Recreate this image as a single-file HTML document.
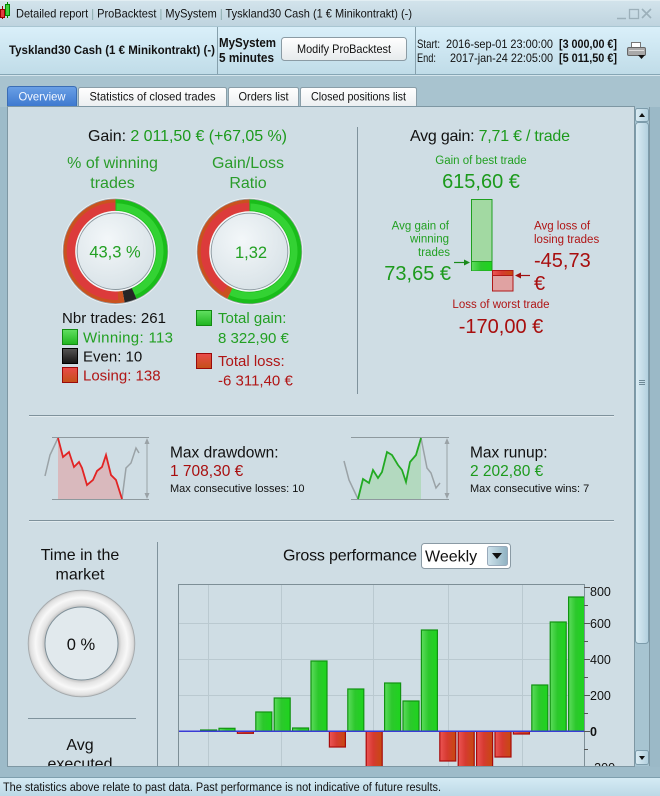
<!DOCTYPE html>
<html><head><meta charset="utf-8">
<style>
html,body{margin:0;padding:0;width:660px;height:796px;overflow:hidden;background:#9dbbc9}
svg{display:block}
text{font-family:"Liberation Sans",Arial,sans-serif}
</style></head><body>
<svg width="660" height="796" viewBox="0 0 660 796" xmlns="http://www.w3.org/2000/svg">
<defs>
 <linearGradient id="tb" x1="0" y1="0" x2="0" y2="1"><stop offset="0" stop-color="#d3e4ec"/><stop offset="1" stop-color="#bfd4df"/></linearGradient>
 <linearGradient id="hdr" x1="0" y1="0" x2="0" y2="1"><stop offset="0" stop-color="#daf0fa"/><stop offset="1" stop-color="#c0dce8"/></linearGradient>
 <linearGradient id="tabB" x1="0" y1="0" x2="0" y2="1"><stop offset="0" stop-color="#6aa0e6"/><stop offset="1" stop-color="#3e79cf"/></linearGradient>
 <linearGradient id="tabW" x1="0" y1="0" x2="0" y2="1"><stop offset="0" stop-color="#ffffff"/><stop offset="1" stop-color="#eceff1"/></linearGradient>
 <linearGradient id="btn" x1="0" y1="0" x2="0" y2="1"><stop offset="0" stop-color="#ffffff"/><stop offset="1" stop-color="#e6eaec"/></linearGradient>
 <linearGradient id="sb" x1="0" y1="0" x2="1" y2="0"><stop offset="0" stop-color="#dbecf4"/><stop offset="1" stop-color="#b2d0de"/></linearGradient>
 <linearGradient id="st" x1="0" y1="0" x2="0" y2="1"><stop offset="0" stop-color="#d6ecf5"/><stop offset="1" stop-color="#bcd9e6"/></linearGradient>
 <linearGradient id="gBar" x1="0" y1="0" x2="1" y2="0"><stop offset="0" stop-color="#5ddc5d"/><stop offset="0.45" stop-color="#2cc82c"/><stop offset="1" stop-color="#1ed41e"/></linearGradient>
 <linearGradient id="rBar" x1="0" y1="0" x2="1" y2="0"><stop offset="0" stop-color="#ec5555"/><stop offset="0.45" stop-color="#d63a30"/><stop offset="1" stop-color="#c64a10"/></linearGradient>
 <linearGradient id="gSq" x1="0" y1="0" x2="0" y2="1"><stop offset="0" stop-color="#62e062"/><stop offset="1" stop-color="#1fb41f"/></linearGradient>
 <linearGradient id="rSq" x1="0" y1="0" x2="0" y2="1"><stop offset="0" stop-color="#ea4a4a"/><stop offset="1" stop-color="#c45018"/></linearGradient>
 <linearGradient id="kSq" x1="0" y1="0" x2="0" y2="1"><stop offset="0" stop-color="#555"/><stop offset="1" stop-color="#151515"/></linearGradient>
 <linearGradient id="dd" x1="0" y1="0" x2="1" y2="0"><stop offset="0" stop-color="#cfe3ec"/><stop offset="1" stop-color="#8fb1c1"/></linearGradient>
 <radialGradient id="disc" cx="0.4" cy="0.35" r="0.7"><stop offset="0" stop-color="#f3f7f9"/><stop offset="1" stop-color="#d8e2e7"/></radialGradient>
 <radialGradient id="ringG" cx="0.5" cy="0.5" r="0.5"><stop offset="0.68" stop-color="#bdbdbd"/><stop offset="0.75" stop-color="#e4e4e4"/><stop offset="0.86" stop-color="#f8f8f8"/><stop offset="0.96" stop-color="#e0e0e0"/><stop offset="1" stop-color="#c4c4c4"/></radialGradient>
 <clipPath id="content"><rect x="8" y="107" width="626" height="659"/></clipPath>
 <clipPath id="plot"><rect x="178" y="584" width="406" height="182"/></clipPath>
</defs>

<!-- title bar -->
<rect x="0" y="0" width="660" height="26" fill="url(#tb)"/>
<line x1="0" y1="0.5" x2="660" y2="0.5" stroke="#e2eef3"/>
<line x1="2.5" y1="6" x2="2.5" y2="19" stroke="#900"/>
<rect x="0.5" y="9.5" width="4" height="8" fill="#e04040" stroke="#900"/>
<line x1="7.5" y1="2" x2="7.5" y2="18" stroke="#080"/>
<rect x="5.5" y="4.5" width="4" height="11" fill="#40d040" stroke="#080"/>
<text x="16" y="17.5" font-size="12" fill="#111" textLength="396" lengthAdjust="spacingAndGlyphs">Detailed report <tspan fill="#8aa">|</tspan> ProBacktest <tspan fill="#8aa">|</tspan> MySystem <tspan fill="#8aa">|</tspan> Tyskland30 Cash (1 € Minikontrakt) (-)</text>
<line x1="617" y1="18.5" x2="626" y2="18.5" stroke="#9cb0ba" stroke-width="1.5"/>
<rect x="629.5" y="9.5" width="9" height="9" fill="none" stroke="#9cb0ba" stroke-width="1.3"/>
<path d="M642 9 L651 18 M651 9 L642 18" stroke="#9cb0ba" stroke-width="1.6"/>

<!-- header -->
<rect x="0" y="26" width="660" height="48" fill="url(#hdr)"/>
<line x1="0" y1="26.5" x2="660" y2="26.5" stroke="#a9c6d2"/>
<line x1="0" y1="74.5" x2="660" y2="74.5" stroke="#86a6b5"/>
<line x1="217.5" y1="27" x2="217.5" y2="74" stroke="#86a0ac"/>
<line x1="415.5" y1="27" x2="415.5" y2="74" stroke="#86a0ac"/>
<text x="9" y="54" font-size="12" font-weight="bold" fill="#111" textLength="206" lengthAdjust="spacingAndGlyphs">Tyskland30 Cash (1 € Minikontrakt) (-)</text>
<text x="219" y="47" font-size="12.5" font-weight="bold" fill="#111" textLength="57" lengthAdjust="spacingAndGlyphs">MySystem</text>
<text x="219" y="62" font-size="12.5" font-weight="bold" fill="#111" textLength="55" lengthAdjust="spacingAndGlyphs">5 minutes</text>
<rect x="281.5" y="37.5" width="125" height="23" rx="3" fill="url(#btn)" stroke="#8b9ba4"/>
<text x="344" y="53" font-size="12" fill="#111" text-anchor="middle" textLength="94" lengthAdjust="spacingAndGlyphs">Modify ProBacktest</text>
<text x="417" y="48" font-size="12" fill="#111" textLength="23" lengthAdjust="spacingAndGlyphs">Start:</text>
<text x="446" y="48" font-size="12" fill="#111" textLength="107" lengthAdjust="spacingAndGlyphs">2016-sep-01 23:00:00</text>
<text x="559" y="48" font-size="12" font-weight="bold" fill="#111" textLength="58" lengthAdjust="spacingAndGlyphs">[3 000,00 €]</text>
<text x="417" y="62" font-size="12" fill="#111" textLength="19" lengthAdjust="spacingAndGlyphs">End:</text>
<text x="450" y="62" font-size="12" fill="#111" textLength="103" lengthAdjust="spacingAndGlyphs">2017-jan-24 22:05:00</text>
<text x="559" y="62" font-size="12" font-weight="bold" fill="#111" textLength="58" lengthAdjust="spacingAndGlyphs">[5 011,50 €]</text>
<!-- printer -->
<rect x="631.5" y="42.5" width="9" height="6" fill="#fff" stroke="#777"/>
<rect x="627.5" y="47.5" width="18" height="8" rx="1.5" fill="#a9a9a9" stroke="#666"/>
<line x1="629" y1="50.5" x2="644" y2="50.5" stroke="#ddd"/>
<path d="M638 55 L645 55 L641.5 59 Z" fill="#111"/>

<!-- tab strip bg -->
<rect x="0" y="75" width="660" height="32" fill="#a8c3cf"/>
<line x1="0" y1="75.5" x2="660" y2="75.5" stroke="#d4e5ec"/>
<path d="M7.5 106 V89.5 Q7.5 86.5 10.5 86.5 H73.5 Q76.5 86.5 76.5 89.5 V106" fill="url(#tabB)" stroke="#3a6db5"/>
<text x="42" y="100.5" font-size="12" fill="#f4f8ff" text-anchor="middle" textLength="47" lengthAdjust="spacingAndGlyphs">Overview</text>
<path d="M78.5 106 V89.5 Q78.5 87.5 80.5 87.5 H224.5 Q226.5 87.5 226.5 89.5 V106" fill="url(#tabW)" stroke="#8a9ea8"/>
<text x="152.5" y="100.5" font-size="12" fill="#111" text-anchor="middle" textLength="126" lengthAdjust="spacingAndGlyphs">Statistics of closed trades</text>
<path d="M228.5 106 V89.5 Q228.5 87.5 230.5 87.5 H296.5 Q298.5 87.5 298.5 89.5 V106" fill="url(#tabW)" stroke="#8a9ea8"/>
<text x="263.5" y="100.5" font-size="12" fill="#111" text-anchor="middle" textLength="50" lengthAdjust="spacingAndGlyphs">Orders list</text>
<path d="M300.5 106 V89.5 Q300.5 87.5 302.5 87.5 H414.5 Q416.5 87.5 416.5 89.5 V106" fill="url(#tabW)" stroke="#8a9ea8"/>
<text x="358.5" y="100.5" font-size="12" fill="#111" text-anchor="middle" textLength="95" lengthAdjust="spacingAndGlyphs">Closed positions list</text>

<!-- content panel -->
<rect x="7.5" y="106.5" width="627" height="660" fill="#cfdde4" stroke="#7e97a3"/>

<g clip-path="url(#content)">
<!-- Gain -->
<text x="187.5" y="141" font-size="16" text-anchor="middle" fill="#111" textLength="199">Gain: <tspan fill="#1c9a1c">2 011,50 € (+67,05 %)</tspan></text>
<text x="112.5" y="168" font-size="16" text-anchor="middle" fill="#2a9c2a">% of winning</text>
<text x="112.5" y="188" font-size="16" text-anchor="middle" fill="#2a9c2a">trades</text>
<text x="248" y="168" font-size="16" text-anchor="middle" fill="#2a9c2a">Gain/Loss</text>
<text x="248" y="188" font-size="16" text-anchor="middle" fill="#2a9c2a">Ratio</text>

<!-- donut 1 -->
<g transform="translate(115.5 251.2)">
 <circle r="53" fill="none" stroke="#f2f4f5" stroke-width="1.2"/>
 <circle r="52.3" fill="none" stroke="#98a3a9" stroke-width="0.9"/>
 <g transform="rotate(-90)">
  <circle r="46" fill="none" stroke="#1abd1a" stroke-width="12" stroke-dasharray="125.15 300"/>
  <circle r="44.5" fill="none" stroke="#33d233" stroke-width="7" stroke-dasharray="121 300" stroke-dashoffset="-1"/>
  <circle r="46" fill="none" stroke="#262626" stroke-width="12" stroke-dasharray="11.07 300" stroke-dashoffset="-125.15"/>
  <circle r="46" fill="none" stroke="#c9521f" stroke-width="12" stroke-dasharray="152.81 300" stroke-dashoffset="-136.22"/>
  <circle r="44.5" fill="none" stroke="#dc3b3b" stroke-width="8.5" stroke-dasharray="152 300" stroke-dashoffset="-137"/>
 </g>
 <circle r="39.5" fill="none" stroke="#f5f7f8" stroke-width="1.6"/>
 <circle r="38.3" fill="url(#disc)" stroke="#8a979e" stroke-width="0.9"/>
</g>
<text x="115" y="257.5" font-size="16.5" text-anchor="middle" fill="#22a022">43,3 %</text>

<!-- donut 2 -->
<g transform="translate(249.5 251.5)">
 <circle r="53" fill="none" stroke="#f2f4f5" stroke-width="1.2"/>
 <circle r="52.3" fill="none" stroke="#98a3a9" stroke-width="0.9"/>
 <g transform="rotate(-90)">
  <circle r="46" fill="none" stroke="#1abd1a" stroke-width="12" stroke-dasharray="164.37 300"/>
  <circle r="44.5" fill="none" stroke="#33d233" stroke-width="7" stroke-dasharray="162 300" stroke-dashoffset="-1"/>
  <circle r="46" fill="none" stroke="#c9521f" stroke-width="12" stroke-dasharray="124.66 300" stroke-dashoffset="-164.37"/>
  <circle r="44.5" fill="none" stroke="#dc3b3b" stroke-width="8.5" stroke-dasharray="124 300" stroke-dashoffset="-165"/>
 </g>
 <circle r="39.5" fill="none" stroke="#f5f7f8" stroke-width="1.6"/>
 <circle r="38.3" fill="url(#disc)" stroke="#8a979e" stroke-width="0.9"/>
</g>
<text x="251" y="258" font-size="16.5" text-anchor="middle" fill="#22a022">1,32</text>

<!-- legend left -->
<text x="62" y="323" font-size="15" fill="#111" textLength="104">Nbr trades: 261</text>
<rect x="62.5" y="329.5" width="15" height="15" fill="url(#gSq)" stroke="#128a12"/>
<text x="83" y="342.5" font-size="15" fill="#22a022" textLength="90">Winning: 113</text>
<rect x="62.5" y="348.5" width="15" height="15" fill="url(#kSq)" stroke="#000"/>
<text x="83" y="361.5" font-size="15" fill="#111">Even: 10</text>
<rect x="62.5" y="367.5" width="15" height="15" fill="url(#rSq)" stroke="#9a0a0a"/>
<text x="83" y="380.5" font-size="15" fill="#b01515">Losing: 138</text>
<!-- legend right -->
<rect x="196.5" y="310.5" width="15" height="15" fill="url(#gSq)" stroke="#128a12"/>
<text x="218" y="323" font-size="15" fill="#22a022">Total gain:</text>
<text x="218" y="343" font-size="15" fill="#22a022">8 322,90 €</text>
<rect x="196.5" y="353.5" width="15" height="15" fill="url(#rSq)" stroke="#9a0a0a"/>
<text x="218" y="366" font-size="15" fill="#b01515">Total loss:</text>
<text x="218" y="385.5" font-size="15" fill="#b01515">-6 311,40 €</text>

<!-- divider -->
<line x1="357.5" y1="127" x2="357.5" y2="394" stroke="#7f929c"/>

<!-- right -->
<text x="490" y="141" font-size="16" text-anchor="middle" fill="#111" textLength="160">Avg gain: <tspan fill="#1c9a1c">7,71 € / trade</tspan></text>
<text x="481" y="164" font-size="11.5" text-anchor="middle" fill="#22a022">Gain of best trade</text>
<text x="481" y="188" font-size="20" text-anchor="middle" fill="#1c9a1c">615,60 €</text>
<rect x="471.5" y="199.5" width="20.5" height="71" fill="#a2d9a2" stroke="#1f9f1f"/>
<rect x="472" y="262" width="19.5" height="8.5" fill="url(#gBar)"/>
<line x1="471.5" y1="261.5" x2="492" y2="261.5" stroke="#1f9f1f"/>
<rect x="492.5" y="270.5" width="20.5" height="20.5" fill="#e0a2a2" stroke="#b01818"/>
<rect x="493" y="271" width="19.5" height="4.5" fill="url(#rBar)"/>
<line x1="492.5" y1="275.5" x2="513" y2="275.5" stroke="#b01818"/>
<text x="449" y="229.5" font-size="11.5" text-anchor="end" fill="#22a022">Avg gain of</text>
<text x="449" y="242.5" font-size="11.5" text-anchor="end" fill="#22a022">winning</text>
<text x="450" y="256" font-size="11.5" text-anchor="end" fill="#22a022">trades</text>
<text x="451" y="280" font-size="20" text-anchor="end" fill="#1c9a1c">73,65 €</text>
<line x1="454" y1="262.5" x2="466" y2="262.5" stroke="#1a8a1a" stroke-width="1.2"/>
<path d="M470 262.5 L464 259.5 L464 265.5 Z" fill="#1a8a1a"/>
<line x1="519" y1="275.5" x2="530" y2="275.5" stroke="#a01010" stroke-width="1.2"/>
<path d="M515 275.5 L521 272.5 L521 278.5 Z" fill="#a01010"/>
<text x="534" y="229.5" font-size="11.5" fill="#b01515">Avg loss of</text>
<text x="534" y="243" font-size="11.5" fill="#b01515">losing trades</text>
<text x="534" y="267" font-size="20" fill="#a80e0e">-45,73</text>
<text x="534" y="290" font-size="20" fill="#a80e0e">€</text>
<text x="501" y="308" font-size="11.5" text-anchor="middle" fill="#b01515">Loss of worst trade</text>
<text x="501" y="333" font-size="20" text-anchor="middle" fill="#a80e0e">-170,00 €</text>

<!-- separators -->
<line x1="29" y1="415.5" x2="614" y2="415.5" stroke="#7f929c"/>
<line x1="29" y1="416.5" x2="614" y2="416.5" stroke="#e2ebef"/>
<line x1="29" y1="520.5" x2="614" y2="520.5" stroke="#7f929c"/>
<line x1="29" y1="521.5" x2="614" y2="521.5" stroke="#e2ebef"/>

<!-- drawdown mini chart -->
<polygon points="58,438 63,457 69,452 74,467 79,462 82,468 87,485 93,480 97,471 102,467 106,455 111,475 116,480 122,499 58,499" fill="#d9b9bd"/>
<line x1="52" y1="437.5" x2="149" y2="437.5" stroke="#8e999e"/>
<line x1="52" y1="499.5" x2="149" y2="499.5" stroke="#8e999e"/>
<line x1="147" y1="441" x2="147" y2="496" stroke="#9aa2a6"/>
<path d="M147 438 L144.5 444 L149.5 444 Z M147 499 L144.5 493 L149.5 493 Z" fill="#9aa2a6"/>
<polyline points="45,476 50,455 58,438" fill="none" stroke="#9aa2a6" stroke-width="1.5"/>
<polyline points="122,499 126,468 131,463 136,448 139,453" fill="none" stroke="#9aa2a6" stroke-width="1.5"/>
<polyline points="58,438 63,457 69,452 74,467 79,462 82,468 87,485 93,480 97,471 102,467 106,455 111,475 116,480 122,499" fill="none" stroke="#e22424" stroke-width="1.8"/>
<text x="170" y="457.5" font-size="15.5" fill="#111">Max drawdown:</text>
<text x="170" y="476" font-size="15.5" fill="#a80e0e">1 708,30 €</text>
<text x="170" y="492" font-size="11" fill="#111">Max consecutive losses: 10</text>

<!-- runup mini chart -->
<polygon points="358,499 363,479 369,483 373,470 378,478 382,472 387,452 392,455 398,465 402,470 406,482 410,462 416,455 421,438 421,499" fill="#b3d9bf"/>
<line x1="351" y1="437.5" x2="449" y2="437.5" stroke="#8e999e"/>
<line x1="351" y1="499.5" x2="449" y2="499.5" stroke="#8e999e"/>
<line x1="447" y1="441" x2="447" y2="496" stroke="#9aa2a6"/>
<path d="M447 438 L444.5 444 L449.5 444 Z M447 499 L444.5 493 L449.5 493 Z" fill="#9aa2a6"/>
<polyline points="344,461 349,480 358,499" fill="none" stroke="#9aa2a6" stroke-width="1.5"/>
<polyline points="421,438 427,468 431,473 436,488 440,483" fill="none" stroke="#9aa2a6" stroke-width="1.5"/>
<polyline points="358,499 363,479 369,483 373,470 378,478 382,472 387,452 392,455 398,465 402,470 406,482 410,462 416,455 421,438" fill="none" stroke="#22aa22" stroke-width="1.8"/>
<text x="470" y="457.5" font-size="15.5" fill="#111">Max runup:</text>
<text x="470" y="476" font-size="15.5" fill="#1c9a1c">2 202,80 €</text>
<text x="470" y="492" font-size="11" fill="#111">Max consecutive wins: 7</text>

<!-- bottom left -->
<line x1="157.5" y1="542" x2="157.5" y2="766" stroke="#7f929c"/>
<text x="80" y="560" font-size="16" text-anchor="middle" fill="#111">Time in the</text>
<text x="80" y="579.5" font-size="16" text-anchor="middle" fill="#111">market</text>
<circle cx="81.5" cy="643.5" r="53.3" fill="url(#ringG)" stroke="#a4a9ac" stroke-width="0.9"/>
<circle cx="81.5" cy="643.5" r="36.5" fill="#e1e9ed" stroke="#7f9099" stroke-width="1"/>
<text x="81" y="650" font-size="16.5" text-anchor="middle" fill="#111">0 %</text>
<line x1="28" y1="718.5" x2="136" y2="718.5" stroke="#7f929c"/>
<text x="80" y="750" font-size="16" text-anchor="middle" fill="#111">Avg</text>
<text x="80" y="769" font-size="16" text-anchor="middle" fill="#111">executed</text>

<!-- Gross performance -->
<text x="283" y="560.5" font-size="16" fill="#111" textLength="134">Gross performance</text>
<rect x="421.5" y="543.5" width="89" height="25" rx="3" fill="#fff" stroke="#8a9aa4"/>
<text x="425" y="561.5" font-size="16" fill="#111">Weekly</text>
<rect x="487.5" y="546.5" width="20" height="19" rx="2" fill="url(#dd)" stroke="#9ab"/>
<path d="M492 553 L502 553 L497 559 Z" fill="#111"/>

<!-- plot -->
<g clip-path="url(#plot)">
 <g stroke="#bac9d0" stroke-width="1">
  <line x1="178" y1="623.5" x2="584" y2="623.5"/>
  <line x1="178" y1="659.5" x2="584" y2="659.5"/>
  <line x1="178" y1="695.5" x2="584" y2="695.5"/>
  <line x1="178" y1="767.5" x2="584" y2="767.5"/>
  <line x1="208.5" y1="584" x2="208.5" y2="766"/>
  <line x1="281.5" y1="584" x2="281.5" y2="766"/>
  <line x1="373.5" y1="584" x2="373.5" y2="766"/>
  <line x1="448.5" y1="584" x2="448.5" y2="766"/>
  <line x1="522.5" y1="584" x2="522.5" y2="766"/>
 </g>
 <g stroke="#129312" stroke-width="1.2" fill="url(#gBar)">
  <rect x="200.6" y="730" width="16" height="1.3"/>
  <rect x="219" y="728.3" width="16" height="3"/>
  <rect x="255.8" y="712" width="16" height="19.3"/>
  <rect x="274.2" y="698" width="16" height="33.3"/>
  <rect x="292.6" y="728" width="16" height="3.3"/>
  <rect x="311" y="661" width="16" height="70.3"/>
  <rect x="347.8" y="689" width="16" height="42.3"/>
  <rect x="384.6" y="683" width="16" height="48.3"/>
  <rect x="403" y="701" width="16" height="30.3"/>
  <rect x="421.4" y="630" width="16" height="101.3"/>
  <rect x="531.8" y="685" width="16" height="46.3"/>
  <rect x="550.2" y="622" width="16" height="109.3"/>
  <rect x="568.6" y="597" width="16" height="134.3"/>
 </g>
 <g stroke="#a80a0a" stroke-width="1.2" fill="url(#rBar)">
  <rect x="237.4" y="731.3" width="16" height="2"/>
  <rect x="329.4" y="731.3" width="16" height="15.7"/>
  <rect x="366.2" y="731.3" width="16" height="50"/>
  <rect x="439.8" y="731.3" width="16" height="29.7"/>
  <rect x="458.2" y="731.3" width="16" height="50"/>
  <rect x="476.6" y="731.3" width="16" height="50"/>
  <rect x="495" y="731.3" width="16" height="25.7"/>
  <rect x="513.4" y="731.3" width="16" height="2.7"/>
 </g>
 <line x1="178" y1="731.3" x2="584" y2="731.3" stroke="#3a3ad6" stroke-width="1.5"/>
</g>
<path d="M178.5 766 V584.5 H584.5 V766" fill="none" stroke="#7d8e96" stroke-width="1"/>
<g stroke="#555" stroke-width="1">
 <line x1="584" y1="587.5" x2="590" y2="587.5"/>
 <line x1="584" y1="605.5" x2="588" y2="605.5"/>
 <line x1="584" y1="623.5" x2="590" y2="623.5"/>
 <line x1="584" y1="641.5" x2="588" y2="641.5"/>
 <line x1="584" y1="659.5" x2="590" y2="659.5"/>
 <line x1="584" y1="677.5" x2="588" y2="677.5"/>
 <line x1="584" y1="695.5" x2="590" y2="695.5"/>
 <line x1="584" y1="713.5" x2="588" y2="713.5"/>
 <line x1="584" y1="731.5" x2="590" y2="731.5"/>
 <line x1="584" y1="749.5" x2="588" y2="749.5"/>
</g>
<g font-size="12.5" fill="#111">
 <text x="590" y="596">800</text>
 <text x="590" y="628">600</text>
 <text x="590" y="664">400</text>
 <text x="590" y="700">200</text>
 <text x="590" y="736" font-weight="bold">0</text>
 <text x="590" y="772">-200</text>
</g>
</g>

<!-- scrollbar -->
<rect x="634" y="107" width="16" height="659" fill="#a7c4d1"/>
<line x1="634.5" y1="107" x2="634.5" y2="766" stroke="#7e97a3"/>
<rect x="635.5" y="108.5" width="13" height="13" rx="2" fill="url(#sb)" stroke="#7d9cab"/>
<path d="M639 117 L645 117 L642 113 Z" fill="#111"/>
<rect x="635.5" y="122.5" width="13" height="521" rx="3" fill="url(#sb)" stroke="#7d9cab"/>
<g stroke="#6d8896"><line x1="639" y1="380.5" x2="645" y2="380.5"/><line x1="639" y1="382.5" x2="645" y2="382.5"/><line x1="639" y1="384.5" x2="645" y2="384.5"/></g>
<rect x="635.5" y="750.5" width="13" height="14" rx="2" fill="url(#sb)" stroke="#7d9cab"/>
<path d="M639 756 L645 756 L642 760 Z" fill="#111"/>
<rect x="650" y="107" width="10" height="660" fill="#9bb9c7"/>
<line x1="649.5" y1="107" x2="649.5" y2="766" stroke="#7e97a3"/>

<!-- status bar -->
<rect x="0" y="777" width="660" height="19" fill="url(#st)"/>
<line x1="0" y1="777.5" x2="660" y2="777.5" stroke="#7e9fae"/>
<text x="3" y="791" font-size="11.5" fill="#111" textLength="438" lengthAdjust="spacingAndGlyphs">The statistics above relate to past data. Past performance is not indicative of future results.</text>
</svg>
</body></html>
